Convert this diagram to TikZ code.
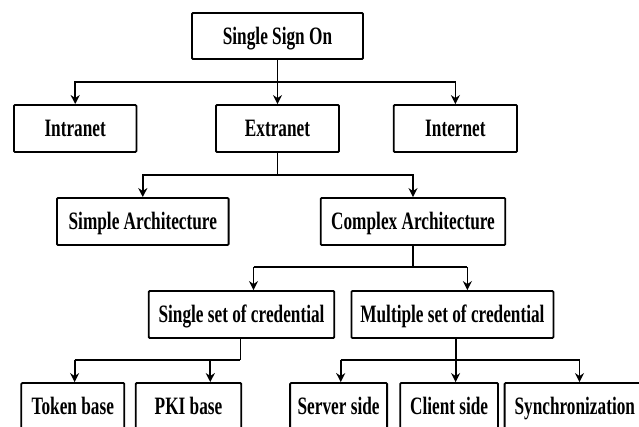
\documentclass[tikz,border=0pt]{standalone}
\usepackage{fontspec}
\newfontfamily\boxfont[FakeStretch=0.69]{Liberation Serif}
\usetikzlibrary{arrows.meta}
\begin{document}
\begin{tikzpicture}[x=1pt,y=1pt,
  box/.style={draw, line width=1.8pt, rounded corners=1pt, inner sep=0pt,
    minimum height=47pt, text height=16.5pt, text depth=0pt,
    font=\boxfont\bfseries\fontsize{25}{28}\selectfont},
  conn/.style={line width=1.8pt},
  arr/.style={conn, -{Stealth[length=9pt,width=9pt]}}]
\useasboundingbox (0,0) rectangle (639,-427);
\clip (0,0) rectangle (639,-427);
% boxes
\node[box, minimum width=171pt, minimum height=46pt] (sso) at (277.5,-36) {Single Sign On};
\node[box, minimum width=122.5pt] (intra) at (75.2,-128.5) {Intranet};
\node[box, minimum width=123pt] (extra) at (277.5,-128.5) {Extranet};
\node[box, minimum width=123.3pt] (inter) at (455.4,-128.5) {Internet};
\node[box, minimum width=171.6pt] (simple) at (142.8,-221.5) {Simple Architecture};
\node[box, minimum width=184.6pt] (complex) at (413,-221.5) {Complex Architecture};
\node[box, minimum width=185.5pt] (single) at (241.5,-314.5) {Single set of credential};
\node[box, minimum width=202pt] (multiple) at (452.4,-314.5) {Multiple set of credential};
\node[box, minimum width=103pt] (token) at (72.8,-406.5) {Token base};
\node[box, minimum width=105.5pt] (pki) at (188.5,-406.5) {PKI base};
\node[box, minimum width=97pt] (server) at (338.6,-406.5) {Server side};
\node[box, minimum width=97.8pt] (client) at (449.1,-406.5) {Client side};
\node[box, minimum width=140.4pt] (sync) at (574.8,-406.5) {Synchronization};
% bus coordinates
\coordinate (b1) at (277.5,-82);
\coordinate (b2) at (278,-175);
\coordinate (b3l) at (253.5,-267);
\coordinate (b3r) at (467.4,-267);
\coordinate (b4a) at (74.6,-360);
\coordinate (b4b) at (210.3,-360);
\coordinate (b4c) at (240.4,-360);
\coordinate (b5a) at (340.7,-360);
\coordinate (b5b) at (455.6,-360);
\coordinate (b5c) at (579.5,-360);
% level 1
\draw[arr] (sso.south) -- (extra.north);
\draw[arr] (b1) -| (intra.north);
\draw[arr] (b1) -| (inter.north);
% level 2
\draw[conn] (extra.south) -- (extra.south |- b2);
\draw[arr] (extra.south |- b2) -| (simple.north);
\draw[arr] (extra.south |- b2) -| (complex.north);
% level 3
\draw[conn] (complex.south) -- (complex.south |- b3l);
\draw[conn] (b3l) -- (b3r);
\draw[arr] (b3l) -- (b3l |- single.north);
\draw[arr] (b3r) -- (b3r |- multiple.north);
% level 4 left
\draw[conn] (b4c |- single.south) -- (b4c);
\draw[conn] (b4a) -- (b4c);
\draw[arr] (b4a) -- (b4a |- token.north);
\draw[arr] (b4b) -- (b4b |- pki.north);
% level 4 right
\draw[conn] (b5b |- multiple.south) -- (b5b);
\draw[conn] (b5a) -- (b5c);
\draw[arr] (b5a) -- (b5a |- server.north);
\draw[arr] (b5b) -- (b5b |- client.north);
\draw[arr] (b5c) -- (b5c |- sync.north);
\end{tikzpicture}
\end{document}
